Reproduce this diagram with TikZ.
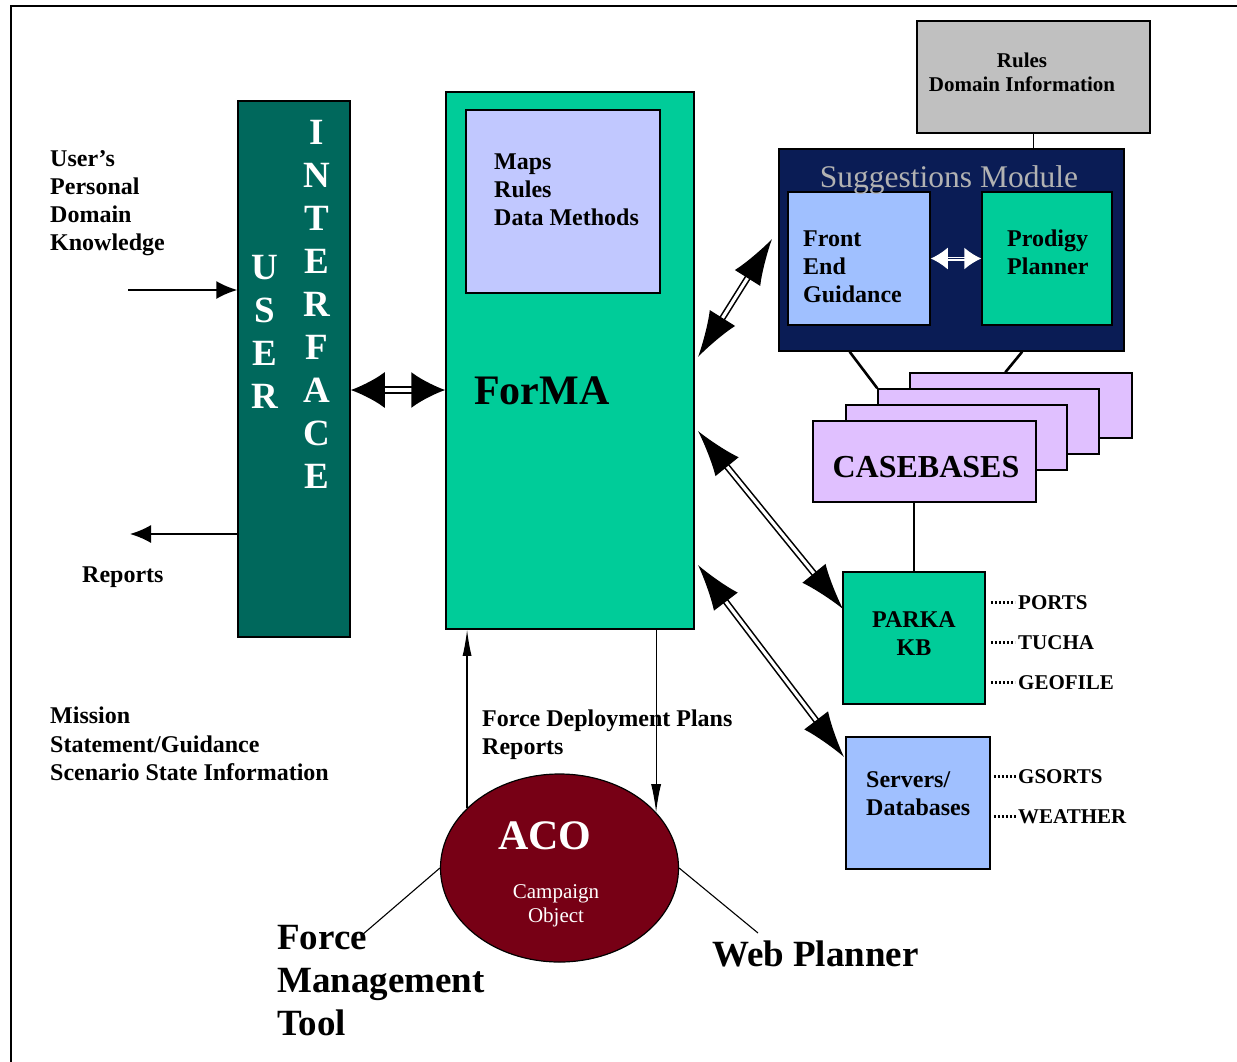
\documentclass[tikz,border=0pt]{standalone}
\usepackage{fontspec}
\setmainfont{Liberation Serif}
\usetikzlibrary{arrows.meta,shapes.geometric,calc}
\definecolor{uiteal}{RGB}{0,104,92}
\definecolor{formagreen}{RGB}{0,204,153}
\definecolor{mapsblue}{RGB}{193,200,255}
\definecolor{rulesgray}{RGB}{192,192,192}
\definecolor{suggnavy}{RGB}{10,28,85}
\definecolor{titlegray}{RGB}{178,178,178}
\definecolor{lightblue}{RGB}{160,192,255}
\definecolor{lavender}{RGB}{224,192,255}
\definecolor{acored}{RGB}{119,0,21}
\newcommand\fsz[2]{\fontsize{#1}{#2}\selectfont}
\begin{document}
\begin{tikzpicture}[x=1pt,y=-1pt,
  box/.style={draw=black, line width=1.5pt, inner sep=0pt},
  btext/.style={font=\bfseries\fsz{24}{28}, inner sep=0pt, align=left},
  conn/.style={line width=1.5pt},
  thickconn/.style={line width=2.6pt},
  thinconn/.style={line width=1.1pt},
  dotconn/.style={line width=3.2pt, dash pattern=on 2pt off 2pt},
  bigdbl/.style={line width=1.6pt, double=white, double distance=3.2pt,
     {Latex[length=46pt,width=30pt]}-{Latex[length=46pt,width=30pt]}},
  uidbl/.style={line width=2pt, double=white, double distance=3.5pt,
     {Latex[length=34pt,width=36pt]}-{Latex[length=34pt,width=36pt]}},
  singarrow/.style={line width=1.5pt, -{Latex[length=21pt,width=18pt]}},
  thinarrow/.style={line width=1.2pt, -{Latex[length=28pt,width=10pt]}}
]
\useasboundingbox (0,0) rectangle (1237,1061);
% frame
\draw[line width=2pt] (11,1070) -- (11,6) -- (1245,6);

% boxes
\node[box, fill=uiteal, minimum width=112pt, minimum height=536pt] (ui) at (294,369) {};
\node[box, fill=formagreen, minimum width=248pt, minimum height=537pt] (forma) at (570,360.5) {};
\node[box, fill=mapsblue, minimum width=194pt, minimum height=183pt] (maps) at (563,201.5) {};
\node[box, fill=rulesgray, minimum width=233pt, minimum height=112pt] (rules) at (1033.5,77) {};
\node[box, fill=suggnavy, minimum width=345pt, minimum height=202pt] (sugg) at (951.5,250) {};
\node[box, fill=lightblue, minimum width=142pt, minimum height=133pt] (feg) at (859,258.5) {};
\node[box, fill=formagreen, minimum width=130pt, minimum height=133pt] (prod) at (1047,258.5) {};
\node[box, fill=lavender, minimum width=222pt, minimum height=65pt] (card4) at (1021,405.5) {};
\node[box, fill=lavender, minimum width=221pt, minimum height=65pt] (card3) at (988.5,421.5) {};
\node[box, fill=lavender, minimum width=221pt, minimum height=65pt] (card2) at (956.5,437.5) {};
\node[box, fill=lavender, minimum width=223pt, minimum height=81pt] (card1) at (924.5,461.5) {};
\node[box, fill=formagreen, minimum width=142pt, minimum height=132pt] (parka) at (914,638) {};
\node[box, fill=lightblue, minimum width=144pt, minimum height=132pt] (serv) at (918,803) {};
\node[ellipse, draw=black, line width=1.2pt, fill=acored, minimum width=238pt, minimum height=188pt, inner sep=0pt] (aco) at (559.5,868) {};

% texts
\node[btext, anchor=north west] (usertxt) at (50,150) {User’s\\Personal\\Domain\\Knowledge};
\node[btext, anchor=base west] (reptxt) at (82,582) {Reports};
\node[btext, anchor=north west, font=\bfseries\fsz{24}{28.5}] (mission) at (50,707) {Mission\\Statement/Guidance\\Scenario State Information};
\node[btext, anchor=north west] (mapstxt) at (494,154) {Maps\\Rules\\Data Methods};
\node[inner sep=0pt, anchor=base west, font=\bfseries\fsz{42}{48}] (formatxt) at (474,404) {ForMA};
\node[inner sep=0pt, anchor=north, align=center, font=\bfseries\fsz{21}{24}] (rulestxt) at (1022,53) {Rules\\Domain Information};
\node[inner sep=0pt, anchor=base, text=titlegray, font=\fsz{31.5}{36}] (suggtxt) at (949,187) {Suggestions Module};
\node[btext, anchor=north west] (fegtxt) at (803,231) {Front\\End\\Guidance};
\node[btext, anchor=north west] (prodtxt) at (1007,230) {Prodigy\\Planner};
\node[inner sep=0pt, anchor=base, font=\bfseries\fsz{32}{36}] (casetxt) at (926,477) {CASEBASES};
\node[btext, anchor=north, align=center] (parkatxt) at (914,611) {PARKA\\KB};
\node[btext, anchor=north west] (servtxt) at (866,771) {Servers/\\Databases};
\node[inner sep=0pt, anchor=base west, font=\bfseries\fsz{21}{24}] (ports) at (1018,609) {PORTS};
\node[inner sep=0pt, anchor=base west, font=\bfseries\fsz{21}{24}] (tucha) at (1018,649) {TUCHA};
\node[inner sep=0pt, anchor=base west, font=\bfseries\fsz{21}{24}] (geofile) at (1018,689) {GEOFILE};
\node[inner sep=0pt, anchor=base west, font=\bfseries\fsz{21}{24}] (gsorts) at (1018,783) {GSORTS};
\node[inner sep=0pt, anchor=base west, font=\bfseries\fsz{21}{24}] (weather) at (1018,823) {WEATHER};
\node[btext, anchor=north west] (fdptxt) at (482,710) {Force Deployment Plans\\Reports};
\node[inner sep=0pt, anchor=base, text=white, font=\bfseries\fsz{42}{48}] (acotxt) at (545,849) {ACO};
\node[inner sep=0pt, anchor=north, align=center, text=white, font=\fsz{21}{24}] (camptxt) at (556,884) {Campaign\\Object};
\node[inner sep=0pt, anchor=north west, align=left, font=\bfseries\fsz{37}{43}] (fmt) at (277,925) {Force\\Management\\Tool};
\node[inner sep=0pt, anchor=base west, font=\bfseries\fsz{37}{43}] (webp) at (712,966) {Web Planner};
\node[inner sep=0pt, anchor=north, align=center, text=white, font=\bfseries\fsz{37}{43}] (usertitle) at (265,255.5) {U\\S\\E\\R};
\node[inner sep=0pt, anchor=north, align=center, text=white, font=\bfseries\fsz{37}{43}] (intertitle) at (317,120.5) {I\\N\\T\\E\\R\\F\\A\\C\\E};

% connectors
\coordinate (uin) at (128,290);
\coordinate (repend) at (130,534);
\draw[singarrow] (uin) -- (uin -| ui.west);
\draw[singarrow] (repend -| ui.west) -- (repend);
\draw[uidbl] ([yshift=-21pt]ui.east) -- ([yshift=-21pt]ui.east -| forma.west);

\coordinate (s1) at (698,357);
\coordinate (s2) at (772,239);
\coordinate (p1) at (698,431);
\coordinate (p2) at (843,609);
\coordinate (d1) at (698,565);
\coordinate (d2) at (844,757);
\draw[bigdbl] (s1) -- (s2);
\draw[bigdbl] (p1) -- (p2);
\draw[bigdbl] (d1) -- (d2);

\draw[line width=1.5pt, draw=white, double=suggnavy, double distance=1pt,
  {Latex[length=17pt,width=22pt]}-{Latex[length=17pt,width=22pt]}] (feg.east) -- (prod.west);

\draw[conn] (rules.south) -- (rules.south |- sugg.north);
\draw[thickconn] ($(sugg.south west)!0.206!(sugg.south east)$) -- (card3.north west);
\draw[thickconn] ($(sugg.south west)!0.704!(sugg.south east)$) -- ($(card4.north west)!0.43!(card4.north east)$);
\draw[thickconn] (card1.south -| parka.north) -- (parka.north);

\draw[dotconn] ([xshift=5pt]parka.east |- ports) -- ++(24,0);
\draw[dotconn] ([xshift=5pt]parka.east |- tucha) -- ++(24,0);
\draw[dotconn] ([xshift=5pt]parka.east |- geofile) -- ++(24,0);
\draw[dotconn] ([xshift=3pt]serv.east |- gsorts) -- ++(22,0);
\draw[dotconn] ([xshift=3pt]serv.east |- weather) -- ++(22,0);

\draw[line width=1.2pt, -{Latex[length=26pt,width=9pt]}] (aco.147.6) -- (aco.147.6 |- forma.south);
\draw[thinarrow] (forma.south -| aco.30) -- (aco.30);

\coordinate (fmtend) at (362,935);
\coordinate (webend) at (758,933);
\draw[thinconn] (aco.west) -- (fmtend);
\draw[thinconn] (aco.east) -- (webend);
\end{tikzpicture}
\end{document}
